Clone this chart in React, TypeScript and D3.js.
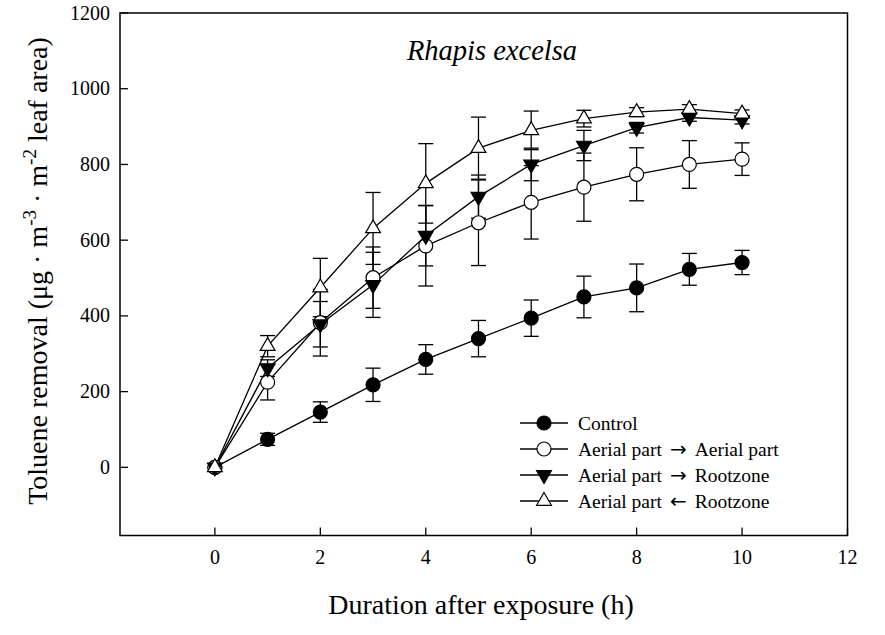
import React from "react";
import * as d3 from "d3";

const hours = [0, 1, 2, 3, 4, 5, 6, 7, 8, 9, 10];
const controlMean = [0, 74, 146, 218, 285, 340, 394, 450, 474, 523, 541];
const controlErr = [0, 16, 27, 44, 39, 48, 48, 55, 63, 42, 32];
const aaMean = [0, 225, 382, 501, 585, 646, 700, 740, 774, 800, 814];
const aaErr = [0, 47, 88, 81, 106, 113, 97, 90, 70, 63, 43];
const arMean = [0, 262, 378, 482, 612, 715, 800, 850, 897, 924, 917];
const arErr = [0, 22, 60, 86, 80, 57, 43, 40, 14, 10, 10];
const raMean = [0, 320, 475, 631, 750, 843, 890, 921, 938, 946, 934];
const raErr = [0, 28, 77, 95, 105, 82, 51, 22, 12, 12, 10];

// legend label parts: [before, arrow, after]
const seriesNames: [string, string, string][] = [
  ["Control", "", ""],
  ["Aerial part", "\u2192", "Aerial part"],
  ["Aerial part", "\u2192", "Rootzone"],
  ["Aerial part", "\u2190", "Rootzone"],
];
const seriesMarkers = ["circleFilled", "circleOpen", "triDown", "triUp"];
const xTicks = [0, 2, 4, 6, 8, 10, 12];
const yTicks = [0, 200, 400, 600, 800, 1000, 1200];

const W = 885;
const H = 635;
const left = 120;
const right = 847.5;
const top = 13;
const bottom = 535.5;
const FONT = "Liberation Serif";

function Marker({ type, x, y }: { type: string; x: number; y: number }) {
  const r = 7;
  if (type === "circleFilled")
    return <circle cx={x} cy={y} r={r} fill="#000" stroke="#000" strokeWidth={1.2} />;
  if (type === "circleOpen")
    return <circle cx={x} cy={y} r={r} fill="#fff" stroke="#000" strokeWidth={1.2} />;
  const sym = d3.symbol().type(d3.symbolTriangle).size(95)();
  if (type === "triDown")
    return (
      <path d={sym || ""} transform={`translate(${x},${y}) rotate(180)`} fill="#000" stroke="#000" strokeWidth={1.2} />
    );
  return <path d={sym || ""} transform={`translate(${x},${y})`} fill="#fff" stroke="#000" strokeWidth={1.2} />;
}

export default function App() {
  const x = d3.scaleLinear().domain([-1.8, 12]).range([left, right]);
  const y = d3.scaleLinear().domain([-180, 1200]).range([bottom, top]);
  const series = [
    { mean: controlMean, err: controlErr },
    { mean: aaMean, err: aaErr },
    { mean: arMean, err: arErr },
    { mean: raMean, err: raErr },
  ];
  const line = d3
    .line<number>()
    .x((_, i) => x(hours[i]))
    .y((d) => y(d));
  const cap = 7.5;

  return (
    <svg width={W} height={H} style={{ position: "absolute", left: 0, top: 0 }}>
      <rect x={0} y={0} width={W} height={H} fill="#fff" />
      {series.map((s, si) => (
        <g key={"e" + si} stroke="#000" strokeWidth={1.3}>
          {s.mean.map((m, i) =>
            s.err[i] > 0 ? (
              <g key={i}>
                <line x1={x(hours[i])} x2={x(hours[i])} y1={y(m - s.err[i])} y2={y(m + s.err[i])} />
                <line x1={x(hours[i]) - cap} x2={x(hours[i]) + cap} y1={y(m - s.err[i])} y2={y(m - s.err[i])} />
                <line x1={x(hours[i]) - cap} x2={x(hours[i]) + cap} y1={y(m + s.err[i])} y2={y(m + s.err[i])} />
              </g>
            ) : null
          )}
        </g>
      ))}
      {series.map((s, si) => (
        <path key={"l" + si} d={line(s.mean) || ""} fill="none" stroke="#000" strokeWidth={1.3} />
      ))}
      {series.map((s, si) => (
        <g key={"m" + si}>
          {s.mean.map((m, i) => (
            <Marker key={i} type={seriesMarkers[si]} x={x(hours[i])} y={y(m)} />
          ))}
        </g>
      ))}
      <rect x={left} y={top} width={right - left} height={bottom - top} fill="none" stroke="#000" strokeWidth={1.5} />
      {xTicks.map((t) => (
        <g key={"xt" + t}>
          <line x1={x(t)} x2={x(t)} y1={bottom} y2={bottom - 8} stroke="#000" strokeWidth={1.3} />
          <text x={x(t)} y={564} textAnchor="middle" fontSize={20} fill="#000" fontFamily={FONT}>
            {t}
          </text>
        </g>
      ))}
      {yTicks.map((t) => (
        <g key={"yt" + t}>
          <line x1={left} x2={left + 8} y1={y(t)} y2={y(t)} stroke="#000" strokeWidth={1.3} />
          <text x={110} y={y(t) + 6.5} textAnchor="end" fontSize={20} fill="#000" fontFamily={FONT}>
            {t}
          </text>
        </g>
      ))}
      <text x={492} y={60} textAnchor="middle" fontSize={28.5} fontStyle="italic" fill="#000" fontFamily={FONT}>
        Rhapis excelsa
      </text>
      <text x={481} y={614} textAnchor="middle" fontSize={28} fill="#000" fontFamily={FONT}>
        Duration after exposure (h)
      </text>
      <text transform="translate(47,271) rotate(-90)" textAnchor="middle" fontSize={28} fill="#000" fontFamily={FONT}>
        Toluene removal (μg · m
        <tspan fontSize={19} dy={-11}>-3</tspan>
        <tspan dy={11}> · m</tspan>
        <tspan fontSize={19} dy={-11}>-2</tspan>
        <tspan dy={11}> leaf area)</tspan>
      </text>
      {seriesNames.map((n, i) => {
        const ly = 423 + i * 26;
        return (
          <g key={"lg" + i}>
            <line x1={520} x2={568} y1={ly} y2={ly} stroke="#000" strokeWidth={1.3} />
            <Marker type={seriesMarkers[i]} x={544} y={ly} />
            <text x={578} y={ly + 6.5} fontSize={19.5} fill="#000" fontFamily={FONT}>
              {n[0]}
              {n[1] ? (
                <tspan dx={8} fontFamily="DejaVu Sans" fontSize={20}>
                  {n[1]}
                </tspan>
              ) : null}
              {n[2] ? <tspan dx={8}>{n[2]}</tspan> : null}
            </text>
          </g>
        );
      })}
    </svg>
  );
}
